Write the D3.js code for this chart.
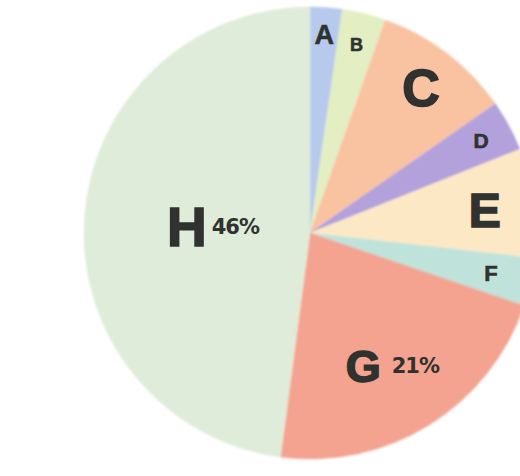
<html>
    <head>
        <title> Pie | D3 </title>
        <script src="https://d3js.org/d3.v7.min.js" charset="utf-8"></script>
        <style>
        body {
            margin: 0;
            background: white;
            overflow: hidden;
        }
        text {
            font-family: "Liberation Sans", Arial, sans-serif;
            font-weight: bold;
            fill: #2f322f;
        }
        .pct {
            font-family: "DejaVu Sans", sans-serif;
        }
        </style>
    </head>
    <body>
        <script>
            //chart data
            var categories = ["A", "B", "C", "D", "E", "F", "G", "H"];
            var values = [2.2, 3, 9.5, 3.5, 7.5, 3.3, 21, 46];
            //which slices also print their percentage
            var showPercent = ["G", "H"];

            //slice colours
            var colors = ["#b7caee", "#e3eec2", "#f9c3a2", "#b3a1dc", "#fde8c6", "#bfe3db", "#f4a391", "#dfecd9"];
            //label look, per category (font size, how far out from centre)
            var labelSize = { A: 27, B: 18, C: 52, D: 21, E: 48, F: 22, G: 45, H: 55 };
            var labelDist = { A: 0.88, B: 0.86, C: 0.81, D: 0.86, E: 0.78, F: 0.82, G: 0.69, H: 0.43 };
            var pctSize = 21;

            //size of graphic
            var width = 520;
            var height = 476;
            var cx = 310, cy = 233, radius = 226;

            var svg = d3.select("body")
                .append("svg")
                .attr("width", width)
                .attr("height", height);

            //soft edges like the photo
            svg.append("defs").append("filter")
                .attr("id", "soft")
                .append("feGaussianBlur")
                .attr("stdDeviation", 1.1);

            var g = svg.append("g")
                .attr("transform", "translate(" + cx + "," + cy + ")");

            var rows = categories.map(function (c, i) {
                return { name: c, value: values[i], color: colors[i] };
            });

            var pie = d3.pie()
                .sort(null)
                .value(function (d) { return d.value; });

            var arc = d3.arc().innerRadius(0).outerRadius(radius);
            var slices = pie(rows);

            g.append("g")
                .attr("filter", "url(#soft)")
                .selectAll("path")
                .data(slices)
                .enter()
                .append("path")
                .attr("fill", function (d) { return d.data.color; })
                .attr("stroke", function (d) { return d.data.color; })
                .attr("stroke-width", 0.5)
                .attr("d", arc);

            //labels: big letter, then the percentage for the large slices
            var labels = g.append("g")
                .selectAll("text")
                .data(slices)
                .enter()
                .append("text")
                .attr("text-anchor", "middle")
                .attr("transform", function (d) {
                    var r = radius * labelDist[d.data.name];
                    var p = d3.arc().innerRadius(r).outerRadius(r).centroid(d);
                    var fs = labelSize[d.data.name];
                    return "translate(" + p[0] + "," + (p[1] + fs * 0.36) + ")";
                });

            labels.append("tspan")
                .attr("font-size", function (d) { return labelSize[d.data.name]; })
                .style("stroke", "#2f322f")
                .style("stroke-width", function (d) { return labelSize[d.data.name] > 30 ? 1.6 : 0.6; })
                .text(function (d) { return d.data.name; });

            labels.filter(function (d) { return showPercent.indexOf(d.data.name) >= 0; })
                .append("tspan")
                .attr("class", "pct")
                .attr("font-size", pctSize)
                .attr("dx", function (d) { return d.data.name == "G" ? 11 : 5; })
                .attr("dy", function (d) { return -(labelSize[d.data.name] * 0.36 - pctSize * 0.36); })
                .style("letter-spacing", "-1px")
                .text(function (d) { return d.data.value + "%"; });
        </script>
    </body>
</html>
